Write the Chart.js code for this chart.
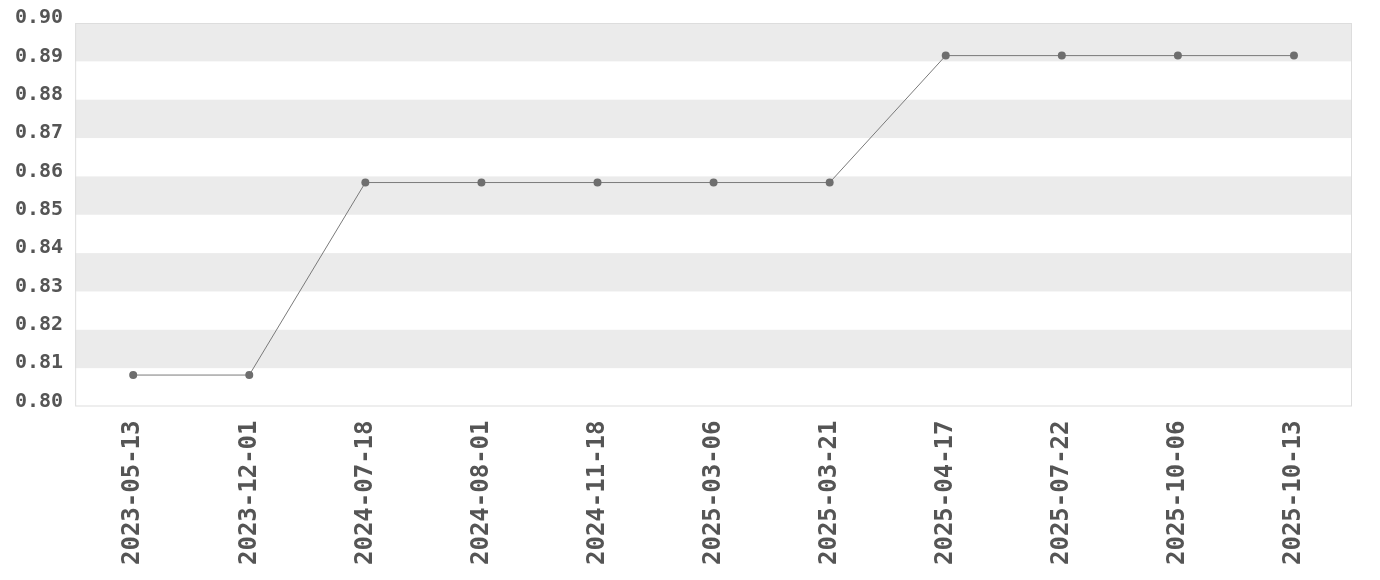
<!DOCTYPE html>
<html>
<head>
<meta charset="utf-8">
<script src="https://cdn.jsdelivr.net/npm/chart.js@4"></script>
<style>
    html, body { margin: 0; padding: 0; background: #fff; }
    #wrap { width: 1380px; height: 580px; }
</style>
</head>
<body>
<div id="wrap"><canvas id="graphCanvas"></canvas></div>
<script>
const dates = [
    "2023-05-13", "2023-12-01", "2024-07-18", "2024-08-01", "2024-11-18",
    "2025-03-06", "2025-03-21", "2025-04-17", "2025-07-22", "2025-10-06", "2025-10-13"
];
const scores = [0.8082, 0.8082, 0.8584, 0.8584, 0.8584, 0.8584, 0.8584, 0.8915, 0.8915, 0.8915, 0.8915];
const yMin = 0.80;
const yMax = 0.90;
const yStep = 0.01;

const TEXT_COLOR = "#555555";
const BAND_COLOR = "#ebebeb";
const FONT = "'DejaVu Sans Mono', monospace";

// grey stripe on every other step (starting at the top), plus a thin frame
const bandPlugin = {
    id: 'bands',
    beforeDatasetsDraw(chart) {
        const {ctx, chartArea, scales} = chart;
        const y = scales.y;
        ctx.save();
        ctx.fillStyle = BAND_COLOR;
        const steps = Math.round((yMax - yMin) / yStep);
        for (let k = 0; k < steps; k += 2) {
            const hi = yMax - k * yStep;
            const lo = hi - yStep;
            const top = y.getPixelForValue(hi);
            const bottom = y.getPixelForValue(lo);
            ctx.fillRect(chartArea.left, top, chartArea.right - chartArea.left, bottom - top);
        }
        ctx.strokeStyle = "#dddddd";
        ctx.lineWidth = 1;
        ctx.strokeRect(chartArea.left + 0.5, chartArea.top + 0.5,
            chartArea.right - chartArea.left - 1, chartArea.bottom - chartArea.top - 1);
        ctx.restore();
    }
};

const ctx = document.getElementById('graphCanvas');

const chart = new Chart(ctx, {
    type: 'line',
    data: {
        labels: dates,
        datasets: [{
            data: scores,
            borderColor: "#7a7a7a",
            borderWidth: 1,
            pointRadius: 4,
            pointBackgroundColor: "#6e6e6e",
            pointBorderWidth: 0,
            tension: 0
        }]
    },
    plugins: [bandPlugin],
    options: {
        animation: false,
        responsive: true,
        maintainAspectRatio: false,
        devicePixelRatio: 1,
        layout: {
            padding: {top: 23, right: 28, left: 11, bottom: 9}
        },
        scales: {
            x: {
                offset: true,
                grid: {display: false},
                border: {display: false},
                ticks: {
                    color: TEXT_COLOR,
                    font: {family: FONT, size: 24, weight: 'bold'},
                    minRotation: 90,
                    maxRotation: 90,
                    padding: 6,
                    autoSkip: false
                }
            },
            y: {
                min: yMin,
                max: yMax,
                grid: {display: false},
                border: {display: false},
                ticks: {
                    stepSize: yStep,
                    color: TEXT_COLOR,
                    font: {family: FONT, size: 20, weight: 'bold'},
                    padding: 4,
                    labelOffset: -5,
                    callback: v => v.toFixed(2)
                }
            }
        },
        plugins: {
            legend: {display: false},
            tooltip: {enabled: false}
        }
    }
});
</script>
</body>
</html>
